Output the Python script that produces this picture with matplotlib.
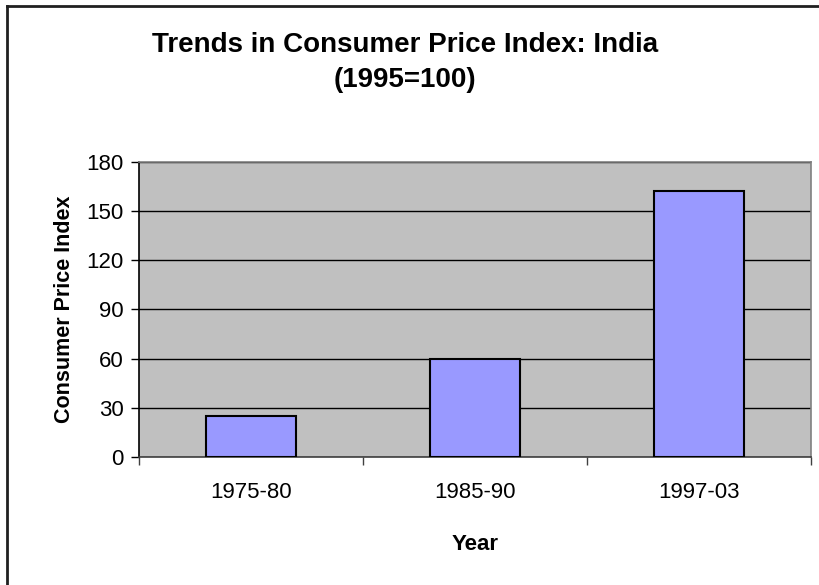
import matplotlib
matplotlib.use("Agg")
import matplotlib.pyplot as plt
from matplotlib.lines import Line2D

plt.rcParams['font.family'] = ['Liberation Sans', 'DejaVu Sans']

# data
periods = ['1975-80', '1985-90', '1997-03']
cpi = [25, 60, 162]
y_ticks = [0, 30, 60, 90, 120, 150, 180]

fig = plt.figure(figsize=(8.2, 5.85), dpi=100)
ax = fig.add_axes([0.1695, 0.2188, 0.8195, 0.5043])

ax.set_facecolor('#c0c0c0')
x = range(len(periods))
ax.bar(x, cpi, width=0.405, color='#9999ff', edgecolor='black', linewidth=1.5, zorder=3)

ax.set_ylim(0, 180)
ax.set_xlim(-0.5, len(periods) - 0.5)
ax.set_yticks(y_ticks)
ax.set_yticklabels([str(v) for v in y_ticks], fontsize=16)
ax.yaxis.grid(True, color='black', linewidth=1, zorder=1)

# category labels in the middle, tick marks at the boundaries
ax.set_xticks(list(x))
ax.set_xticklabels(periods, fontsize=16)
ax.tick_params(axis='x', length=0, pad=18)
ax.set_xticks([i - 0.5 for i in range(len(periods) + 1)], minor=True)
ax.tick_params(axis='x', which='minor', length=6, width=1, color='#404040', direction='out')
ax.tick_params(axis='y', length=6, width=1, direction='out', pad=5)

ax.spines['top'].set_color('#808080')
ax.spines['right'].set_color('#808080')
ax.spines['left'].set_color('black')
ax.spines['bottom'].set_color('#404040')
for s in ax.spines.values():
    s.set_linewidth(1.2)

ax.set_xlabel('Year', fontsize=16, fontweight='bold', labelpad=22)
ax.set_ylabel('Consumer Price Index', fontsize=15.5, fontweight='bold', labelpad=8)

fig.text(0.494, 0.923, 'Trends in Consumer Price Index: India', ha='center', va='center',
         fontsize=20, fontweight='bold')
fig.text(0.494, 0.863, '(1995=100)', ha='center', va='center', fontsize=20, fontweight='bold')

# chart frame (only left and top edges are in view)
fig.add_artist(Line2D([0.008, 0.008], [0, 0.99], color='#202020', linewidth=2, transform=fig.transFigure))
fig.add_artist(Line2D([0.008, 1.0], [0.99, 0.99], color='#202020', linewidth=2, transform=fig.transFigure))

fig.savefig('out.png', dpi=100)
